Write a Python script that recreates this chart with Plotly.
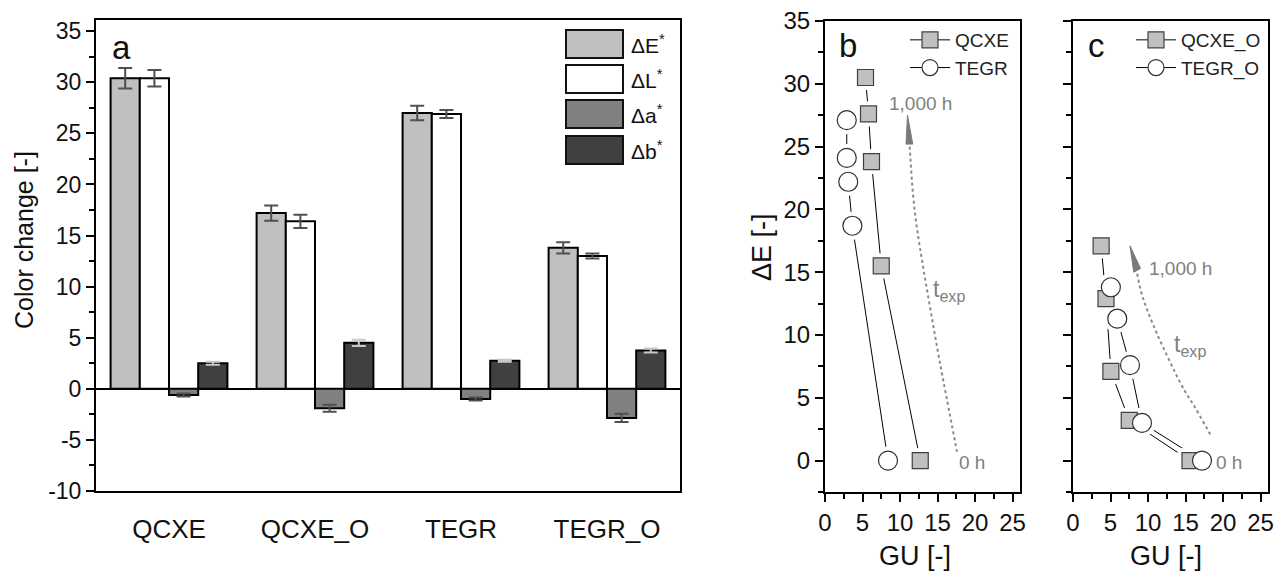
import plotly.graph_objects as go

W, H = 1283, 575

# ---------------- data ----------------
categories = ["QCXE", "QCXE_O", "TEGR", "TEGR_O"]
series_names = ["ΔE<sup>*</sup>", "ΔL<sup>*</sup>", "Δa<sup>*</sup>", "Δb<sup>*</sup>"]
dE = [30.4, 17.2, 27.0, 13.8]
dE_err = [1.0, 0.75, 0.7, 0.55]
dL = [30.4, 16.4, 26.9, 13.0]
dL_err = [0.8, 0.65, 0.4, 0.25]
da = [-0.6, -1.9, -1.0, -2.85]
da_err = [0.15, 0.35, 0.15, 0.4]
db = [2.5, 4.5, 2.75, 3.75]
db_err = [0.15, 0.3, 0.1, 0.2]

# panel b
qcxe_gu = [5.4, 5.8, 6.2, 7.5, 12.7]
qcxe_de = [30.5, 27.6, 23.8, 15.5, 0.0]
tegr_gu = [2.9, 2.9, 3.1, 3.65, 8.4]
tegr_de = [27.1, 24.1, 22.2, 18.7, 0.0]
# panel c
qcxeo_gu = [3.75, 4.4, 5.05, 7.5, 15.6]
qcxeo_de = [17.1, 12.9, 7.1, 3.2, 0.0]
tegro_gu = [5.05, 5.9, 7.6, 9.2, 17.2]
tegro_de = [13.8, 11.3, 7.6, 3.0, 0.0]

# tick labels
ya_ticks = [-10, -5, 0, 5, 10, 15, 20, 25, 30, 35]
ybc_ticks = [0, 5, 10, 15, 20, 25, 30, 35]
x_gu_ticks = [0, 5, 10, 15, 20, 25]

# exposure-time guide curves (decoration)
b_curve = [(17.6, 0.7), (16.7, 3.5), (15.0, 8.85), (12.7, 16.8), (11.8, 20.8), (11.25, 25.3)]
b_head = [(11.0, 27.5), (10.8, 25.2), (11.7, 25.2)]
c_curve = [(18.3, 2.1), (16.2, 4.3), (14.3, 6.2), (11.2, 10.1), (9.3, 13.0), (8.55, 14.9)]
c_head = [(7.6, 17.1), (8.1, 15.0), (9.0, 15.3)]

FONT = "Liberation Sans, Arial, sans-serif"
GRAY_TXT = "#808080"


def px(x):
    return x / W


def py(y):
    return 1 - y / H


def lab(v):
    return str(v)  # plain hyphen-minus like the reference


fig = go.Figure()

bar_fill = ["#c0c0c0", "#ffffff", "#808080", "#404040"]
err_col = ["#505050", "#505050", "#505050", "#c8c8c8"]
vals = [dE, dL, da, db]
errs = [dE_err, dL_err, da_err, db_err]
xpos = list(range(len(categories)))
for i in range(4):
    fig.add_trace(go.Bar(
        x=xpos, y=vals[i], name=series_names[i],
        marker=dict(color=bar_fill[i], line=dict(color="black", width=2)),
        error_y=dict(type="data", array=errs[i], visible=True, color=err_col[i],
                     thickness=2, width=7),
        xaxis="x", yaxis="y", showlegend=False))


def add_series(gu, de, xa, ya, name, symbol, size, fill, edge, legend):
    fig.add_trace(go.Scatter(
        x=gu, y=de, mode="lines+markers", name=name,
        line=dict(color="black", width=1),
        marker=dict(symbol=symbol, size=size, color=fill, line=dict(color=edge, width=1.2)),
        xaxis=xa, yaxis=ya, legend=legend, showlegend=True))


def add_halo(gu, de, xa, ya, symbol, size):
    fig.add_trace(go.Scatter(
        x=gu, y=de, mode="markers",
        marker=dict(symbol=symbol, size=size + 9, color="white", line=dict(width=0)),
        xaxis=xa, yaxis=ya, showlegend=False, hoverinfo="skip"))


def add_markers(gu, de, xa, ya, symbol, size, fill, edge):
    fig.add_trace(go.Scatter(
        x=gu, y=de, mode="markers",
        marker=dict(symbol=symbol, size=size, color=fill, line=dict(color=edge, width=1.2)),
        xaxis=xa, yaxis=ya, showlegend=False))


SQ, CI = 16, 19
# panel b
add_series(qcxe_gu, qcxe_de, "x2", "y2", "QCXE", "square", SQ, "#c0c0c0", "#404040", "legend2")
add_series(tegr_gu, tegr_de, "x2", "y2", "TEGR", "circle", CI, "white", "#303030", "legend2")
add_halo(qcxe_gu, qcxe_de, "x2", "y2", "square", SQ)
add_halo(tegr_gu, tegr_de, "x2", "y2", "circle", CI)
add_markers(qcxe_gu, qcxe_de, "x2", "y2", "square", SQ, "#c0c0c0", "#404040")
add_markers(tegr_gu, tegr_de, "x2", "y2", "circle", CI, "white", "#303030")
# panel c
add_series(qcxeo_gu, qcxeo_de, "x3", "y3", "QCXE_O", "square", SQ, "#c0c0c0", "#404040", "legend3")
add_series(tegro_gu, tegro_de, "x3", "y3", "TEGR_O", "circle", CI, "white", "#303030", "legend3")
add_halo(qcxeo_gu, qcxeo_de, "x3", "y3", "square", SQ)
add_halo(tegro_gu, tegro_de, "x3", "y3", "circle", CI)
add_markers(qcxeo_gu, qcxeo_de, "x3", "y3", "square", SQ, "#c0c0c0", "#404040")
add_markers(tegro_gu, tegro_de, "x3", "y3", "circle", CI, "white", "#303030")

# domains
dom_a = [px(96), px(680)]
dom_b = [px(825), px(1020)]
dom_c = [px(1073), px(1268)]
ydom_a = [py(491), py(20)]
ydom_bc = [py(492), py(21)]

minor_common = dict(tickmode="linear", tick0=0, dtick=2.5, ticks="outside", ticklen=5,
                    tickwidth=2, tickcolor="black")
axis_common = dict(showline=True, mirror=True, linecolor="black", linewidth=2,
                   showgrid=False, zeroline=False, ticks="outside", tickcolor="black",
                   tickwidth=2, ticklen=8, automargin=False,
                   tickfont=dict(family=FONT, size=24, color="#111"))

legend_common = dict(xanchor="left", yanchor="top", bgcolor="rgba(0,0,0,0)",
                     font=dict(family=FONT, size=19, color="#222"), itemwidth=40,
                     tracegroupgap=0, borderwidth=0)

fig.update_layout(
    template="none",
    width=W, height=H, margin=dict(l=0, r=0, t=0, b=0, pad=0), autosize=False,
    paper_bgcolor="white", plot_bgcolor="white",
    barmode="group", bargap=0.2, bargroupgap=0,
    font=dict(family=FONT, color="#111"),
    xaxis=dict(axis_common, domain=dom_a, range=[-0.5, 3.5], tickmode="array", tickvals=xpos,
               ticktext=categories, ticks="", tickfont=dict(family=FONT, size=26, color="#111"),
               ticklabelstandoff=14),
    yaxis=dict(axis_common, domain=ydom_a, range=[-10, 36.1], tickmode="array",
               tickvals=ya_ticks, ticktext=[lab(v) for v in ya_ticks],
               tickfont=dict(family=FONT, size=23, color="#111"),
               zeroline=True, zerolinecolor="black", zerolinewidth=2,
               minor=minor_common),
    xaxis2=dict(axis_common, domain=dom_b, range=[0, 26], tickmode="array", tickvals=x_gu_ticks,
                ticktext=[lab(v) for v in x_gu_ticks], anchor="y2", minor=minor_common),
    yaxis2=dict(axis_common, domain=ydom_bc, range=[-2.5, 35], tickmode="array", tickvals=ybc_ticks,
                ticktext=[lab(v) for v in ybc_ticks], anchor="x2", minor=minor_common),
    xaxis3=dict(axis_common, domain=dom_c, range=[0, 26], tickmode="array", tickvals=x_gu_ticks,
                ticktext=[lab(v) for v in x_gu_ticks], anchor="y3", minor=minor_common),
    yaxis3=dict(axis_common, domain=ydom_bc, range=[-2.5, 35], tickmode="array", tickvals=ybc_ticks,
                anchor="x3", showticklabels=False, minor=minor_common),
    legend2=dict(legend_common, x=px(905), y=py(21)),
    legend3=dict(legend_common, x=px(1131), y=py(21)),
)

shapes = []
annotations = []

# manual legend for panel a
box_tops = [30, 65, 100, 136]
for i, top in enumerate(box_tops):
    shapes.append(dict(type="rect", xref="paper", yref="paper",
                       x0=px(566), x1=px(623), y0=py(top + 28), y1=py(top),
                       fillcolor=bar_fill[i], line=dict(color="#111", width=2)))
    annotations.append(dict(xref="paper", yref="paper", x=px(629), y=py(top + 14),
                            text=series_names[i], showarrow=False, xanchor="left",
                            yanchor="middle", font=dict(family=FONT, size=21, color="#111")))


def path_from(points, close=False):
    s = "M " + " L ".join(f"{x},{y}" for x, y in points)
    return s + (" Z" if close else "")


def smooth_path(points):
    s = f"M {points[0][0]},{points[0][1]}"
    for i in range(len(points) - 1):
        p0 = points[i - 1] if i > 0 else points[i]
        p1 = points[i]
        p2 = points[i + 1]
        p3 = points[i + 2] if i + 2 < len(points) else p2
        c1 = (p1[0] + (p2[0] - p0[0]) / 6, p1[1] + (p2[1] - p0[1]) / 6)
        c2 = (p2[0] - (p3[0] - p1[0]) / 6, p2[1] - (p3[1] - p1[1]) / 6)
        s += f" C {c1[0]},{c1[1]} {c2[0]},{c2[1]} {p2[0]},{p2[1]}"
    return s


for xr, yr, curve, head in [("x2", "y2", b_curve, b_head), ("x3", "y3", c_curve, c_head)]:
    shapes.append(dict(type="path", xref=xr, yref=yr, path=smooth_path(curve),
                       line=dict(color="#8a8a8a", width=2, dash="dot")))
    shapes.append(dict(type="path", xref=xr, yref=yr, path=path_from(head, True),
                       fillcolor="#7a7a7a", line=dict(color="#7a7a7a", width=1)))

# panel letters
for x, y, t in [(110, 47, "a"), (837, 46, "b"), (1086, 46, "c")]:
    annotations.append(dict(xref="paper", yref="paper", x=px(x), y=py(y), text=t,
                            showarrow=False, xanchor="left", yanchor="middle",
                            font=dict(family=FONT, size=33, color="#111")))

# grey annotations
for x, y, t, s in [(887, 103, "1,000 h", 19), (931, 290, "t<sub>exp</sub>", 23), (957, 463, "0 h", 19),
                   (1147, 268, "1,000 h", 19), (1172, 345, "t<sub>exp</sub>", 23), (1214, 462, "0 h", 19)]:
    annotations.append(dict(xref="paper", yref="paper", x=px(x), y=py(y), text=t,
                            showarrow=False, xanchor="left", yanchor="middle",
                            font=dict(family=FONT, size=s, color=GRAY_TXT)))

# axis titles
annotations.append(dict(xref="paper", yref="paper", x=px(24), y=py(240), text="Color change [-]",
                        showarrow=False, textangle=-90, xanchor="center", yanchor="middle",
                        font=dict(family=FONT, size=25, color="#111")))
annotations.append(dict(xref="paper", yref="paper", x=px(762), y=py(247), text="ΔE [-]",
                        showarrow=False, textangle=-90, xanchor="center", yanchor="middle",
                        font=dict(family=FONT, size=27, color="#111")))
for xc in [915, 1166]:
    annotations.append(dict(xref="paper", yref="paper", x=px(xc), y=py(556), text="GU [-]",
                            showarrow=False, xanchor="center", yanchor="middle",
                            font=dict(family=FONT, size=27, color="#111")))

fig.update_layout(shapes=shapes, annotations=annotations)
fig.write_html("out.html", config={"displayModeBar": False},
               post_script="document.body.style.margin='0px';document.body.style.overflow='hidden';")
